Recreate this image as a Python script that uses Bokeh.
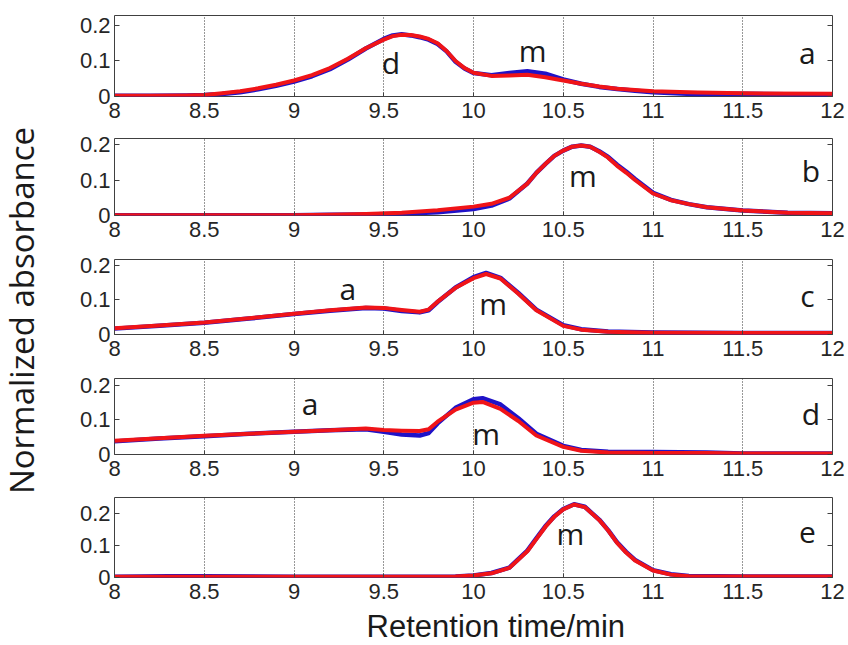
import math
from bokeh.plotting import figure
from bokeh.layouts import column, row
from bokeh.models import FixedTicker, LinearAxis, Range1d, ColumnDataSource
from bokeh.core.properties import value
from bokeh.embed import file_html
from bokeh.resources import INLINE

# ---------------- data ----------------
x_ticks = [8, 8.5, 9, 9.5, 10, 10.5, 11, 11.5, 12]
x_tick_labels = ["8", "8.5", "9", "9.5", "10", "10.5", "11", "11.5", "12"]
y_ticks = [0, 0.1, 0.2]
y_tick_labels = ["0", "0.1", "0.2"]

x_title = "Retention time/min"
y_title = "Normalized absorbance"

panel_ids = ["a", "b", "c", "d", "e"]
y_max = [0.228, 0.217, 0.217, 0.22, 0.25]

a_x = [8.0, 8.2, 8.4, 8.5, 8.6, 8.7, 8.8, 8.9, 9.0, 9.1, 9.2, 9.3, 9.4, 9.5, 9.55, 9.6, 9.65,
       9.7, 9.75, 9.8, 9.85, 9.9, 9.95, 10.0, 10.1, 10.2, 10.3, 10.4, 10.5, 10.6, 10.7, 10.8,
       10.9, 11.0, 11.25, 11.5, 12.0]
a_red = [0.002, 0.002, 0.003, 0.004, 0.009, 0.015, 0.023, 0.033, 0.045, 0.060, 0.080, 0.106,
         0.136, 0.160, 0.170, 0.174, 0.173, 0.169, 0.162, 0.150, 0.128, 0.100, 0.080, 0.067,
         0.058, 0.059, 0.061, 0.054, 0.045, 0.036, 0.028, 0.022, 0.018, 0.015, 0.011, 0.009,
         0.008]
a_blue = [0.002, 0.002, 0.003, 0.004, 0.007, 0.012, 0.020, 0.030, 0.042, 0.057, 0.077, 0.104,
          0.135, 0.162, 0.172, 0.175, 0.172, 0.167, 0.160, 0.148, 0.127, 0.098, 0.079, 0.066,
          0.060, 0.066, 0.071, 0.064, 0.048, 0.036, 0.027, 0.021, 0.016, 0.012, 0.006, 0.008,
          0.005]

b_x = [8.0, 9.0, 9.2, 9.4, 9.6, 9.8, 10.0, 10.1, 10.2, 10.3, 10.35, 10.4, 10.45, 10.5, 10.55,
       10.6, 10.65, 10.7, 10.75, 10.8, 10.85, 10.9, 11.0, 11.1, 11.2, 11.3, 11.5, 11.75, 12.0]
b_red = [0.001, 0.001, 0.002, 0.004, 0.008, 0.015, 0.025, 0.033, 0.050, 0.090, 0.120, 0.145,
         0.168, 0.183, 0.194, 0.197, 0.194, 0.180, 0.163, 0.140, 0.121, 0.100, 0.062, 0.043,
         0.032, 0.023, 0.014, 0.008, 0.006]
b_blue = [0.001, 0.001, 0.002, 0.003, 0.005, 0.009, 0.018, 0.028, 0.048, 0.090, 0.120, 0.145,
          0.168, 0.183, 0.194, 0.197, 0.194, 0.181, 0.165, 0.143, 0.124, 0.103, 0.064, 0.044,
          0.032, 0.023, 0.014, 0.008, 0.006]

c_x = [8.0, 8.25, 8.5, 8.75, 9.0, 9.2, 9.4, 9.5, 9.6, 9.7, 9.75, 9.8, 9.9, 10.0, 10.07, 10.15,
       10.25, 10.35, 10.5, 10.6, 10.75, 11.0, 11.5, 12.0]
c_red = [0.018, 0.026, 0.035, 0.047, 0.060, 0.070, 0.078, 0.077, 0.071, 0.066, 0.072, 0.095,
         0.135, 0.163, 0.175, 0.162, 0.118, 0.070, 0.025, 0.014, 0.008, 0.005, 0.004, 0.004]
c_blue = [0.017, 0.025, 0.034, 0.046, 0.059, 0.069, 0.077, 0.075, 0.068, 0.064, 0.070, 0.094,
          0.136, 0.166, 0.178, 0.164, 0.120, 0.072, 0.027, 0.015, 0.009, 0.006, 0.004, 0.004]

d_x = [8.0, 8.25, 8.5, 8.75, 9.0, 9.2, 9.4, 9.5, 9.6, 9.7, 9.75, 9.8, 9.9, 10.0, 10.05, 10.15,
       10.25, 10.35, 10.5, 10.6, 10.75, 11.0, 11.3, 11.5, 12.0]
d_red = [0.040, 0.047, 0.054, 0.060, 0.066, 0.070, 0.075, 0.071, 0.069, 0.068, 0.073, 0.095,
         0.130, 0.150, 0.152, 0.132, 0.097, 0.055, 0.022, 0.011, 0.006, 0.004, 0.004, 0.003,
         0.003]
d_blue = [0.038, 0.046, 0.053, 0.060, 0.066, 0.070, 0.073, 0.066, 0.058, 0.055, 0.062, 0.090,
          0.135, 0.160, 0.163, 0.145, 0.105, 0.060, 0.025, 0.013, 0.008, 0.007, 0.006, 0.003,
          0.003]

e_x = [8.0, 8.3, 8.5, 9.0, 9.5, 9.9, 10.0, 10.1, 10.2, 10.3, 10.35, 10.4, 10.45, 10.5, 10.56,
       10.62, 10.7, 10.75, 10.8, 10.85, 10.9, 11.0, 11.1, 11.2, 11.5, 12.0]
e_red = [0.002, 0.002, 0.002, 0.002, 0.002, 0.003, 0.006, 0.013, 0.030, 0.082, 0.120, 0.158,
         0.190, 0.213, 0.228, 0.220, 0.180, 0.147, 0.108, 0.078, 0.053, 0.022, 0.009, 0.004,
         0.003, 0.003]
e_blue = [0.002, 0.004, 0.004, 0.002, 0.002, 0.003, 0.006, 0.014, 0.031, 0.084, 0.122, 0.160,
          0.191, 0.214, 0.229, 0.221, 0.181, 0.148, 0.110, 0.080, 0.055, 0.023, 0.010, 0.005,
          0.003, 0.003]

# peak annotations (text, x, y) per panel
a_note_text = ["d", "m", "a"]
a_note_x = [9.54, 10.33, 11.86]
a_note_y = [0.096, 0.13, 0.124]
b_note_text = ["m", "b"]
b_note_x = [10.61, 11.88]
b_note_y = [0.113, 0.127]
c_note_text = ["a", "m", "c"]
c_note_x = [9.30, 10.11, 11.86]
c_note_y = [0.133, 0.09, 0.113]
d_note_text = ["a", "m", "d"]
d_note_x = [9.09, 10.07, 11.88]
d_note_y = [0.147, 0.062, 0.12]
e_note_text = ["m", "e"]
e_note_x = [10.54, 11.86]
e_note_y = [0.1375, 0.14]

series_x = [a_x, b_x, c_x, d_x, e_x]
series_red = [a_red, b_red, c_red, d_red, e_red]
series_blue = [a_blue, b_blue, c_blue, d_blue, e_blue]
notes = [(a_note_text, a_note_x, a_note_y), (b_note_text, b_note_x, b_note_y),
         (c_note_text, c_note_x, c_note_y), (d_note_text, d_note_x, d_note_y),
         (e_note_text, e_note_x, e_note_y)]

# ---------------- layout ----------------
LAB_W = 58
BORDER_TOP = [15, 6, 6, 6, 6]
FRAME_H = [81, 77, 75, 76, 80]
BORDER_BOTTOM = [36, 38, 38, 37, 30]
TITLE_H = 37
LEFT = 56
FRAME_W = 718
RIGHT = 14
PANEL_W = LEFT + FRAME_W + RIGHT
TICK_FONT = "Liberation Sans"
TICK_COLOR = "#262626"

figs = []
for i in range(5):
    h = BORDER_TOP[i] + FRAME_H[i] + BORDER_BOTTOM[i]
    p = figure(width=PANEL_W, height=h,
               x_range=Range1d(8, 12), y_range=Range1d(0, y_max[i]),
               toolbar_location=None, output_backend="svg",
               min_border_left=LEFT, min_border_right=RIGHT,
               min_border_top=BORDER_TOP[i], min_border_bottom=BORDER_BOTTOM[i])
    p.background_fill_color = "white"
    p.border_fill_color = "white"
    p.outline_line_color = "#404040"
    p.outline_line_width = 1

    xa = p.xaxis[0]
    xa.ticker = FixedTicker(ticks=x_ticks)
    xa.major_label_overrides = {t: s for t, s in zip(x_ticks, x_tick_labels)}
    xa.major_tick_in = 4
    xa.major_tick_out = 0
    xa.minor_tick_line_color = None
    xa.axis_line_color = None
    xa.major_tick_line_color = "#404040"
    xa.major_label_standoff = 6
    xa.major_label_text_font = TICK_FONT
    xa.major_label_text_font_size = "22px"
    xa.major_label_text_color = TICK_COLOR

    ya = p.yaxis[0]
    ya.ticker = FixedTicker(ticks=y_ticks)
    ya.major_label_overrides = {t: s for t, s in zip(y_ticks, y_tick_labels)}
    ya.major_tick_in = 5
    ya.major_tick_out = 0
    ya.minor_tick_line_color = None
    ya.axis_line_color = None
    ya.major_tick_line_color = "#404040"
    ya.major_label_standoff = 4
    ya.major_label_text_font = TICK_FONT
    ya.major_label_text_font_size = "22px"
    ya.major_label_text_color = TICK_COLOR

    ra = LinearAxis(ticker=FixedTicker(ticks=y_ticks),
                    major_label_overrides={t: "" for t in y_ticks},
                    major_label_text_color=None,
                    major_tick_in=5, major_tick_out=0, axis_line_color=None,
                    minor_tick_line_color=None, major_label_standoff=0,
                    major_tick_line_color="#404040")
    p.add_layout(ra, "right")

    p.xgrid.ticker = FixedTicker(ticks=x_ticks)
    p.xgrid.grid_line_color = "#303030"
    p.xgrid.grid_line_dash = "1 2"
    p.xgrid.grid_line_width = 1
    p.ygrid.visible = False

    p.line(series_x[i], series_blue[i], line_color="#1f12c8", line_width=4.5,
           line_join="round")
    p.line(series_x[i], series_red[i], line_color="#f01418", line_width=4,
           line_join="round")

    t, nx, ny = notes[i]
    src = ColumnDataSource(dict(x=nx, y=ny, text=t))
    p.text(x="x", y="y", text="text", source=src, text_font=value("Open Sans"),
           text_font_size="30px", text_align="center", text_baseline="middle",
           text_color="#1a1a1a")
    figs.append(p)

# x-axis title strip
tfig = figure(width=PANEL_W, height=TITLE_H, x_range=Range1d(0, PANEL_W),
              y_range=Range1d(0, TITLE_H), x_axis_location=None, y_axis_location=None,
              toolbar_location=None, output_backend="svg", min_border=0,
              outline_line_color=None, title=None)
tfig.grid.visible = False
tfig.text(x=[476.5 - LAB_W], y=[18.5], text=[x_title], text_font=value("Liberation Sans"),
          text_font_size="31px", text_align="center", text_baseline="middle",
          text_color="#1a1a1a")

total_h = sum(BORDER_TOP) + sum(FRAME_H) + sum(BORDER_BOTTOM) + TITLE_H
lab = figure(width=LAB_W, height=total_h, x_range=Range1d(0, LAB_W),
             y_range=Range1d(0, total_h),
             x_axis_location=None, y_axis_location=None, toolbar_location=None,
             output_backend="svg", min_border=0, outline_line_color=None, title=None)
lab.grid.visible = False
lab.text(x=[21], y=[total_h - 310], text=[y_title], angle=math.pi / 2,
         text_font=value("Open Sans"), text_font_size="33px", text_align="center",
         text_baseline="middle", text_color="#1a1a1a")

layout = row(lab, column(*figs, tfig, spacing=0), spacing=0)
open("out.html", "w").write(file_html(layout, INLINE))
